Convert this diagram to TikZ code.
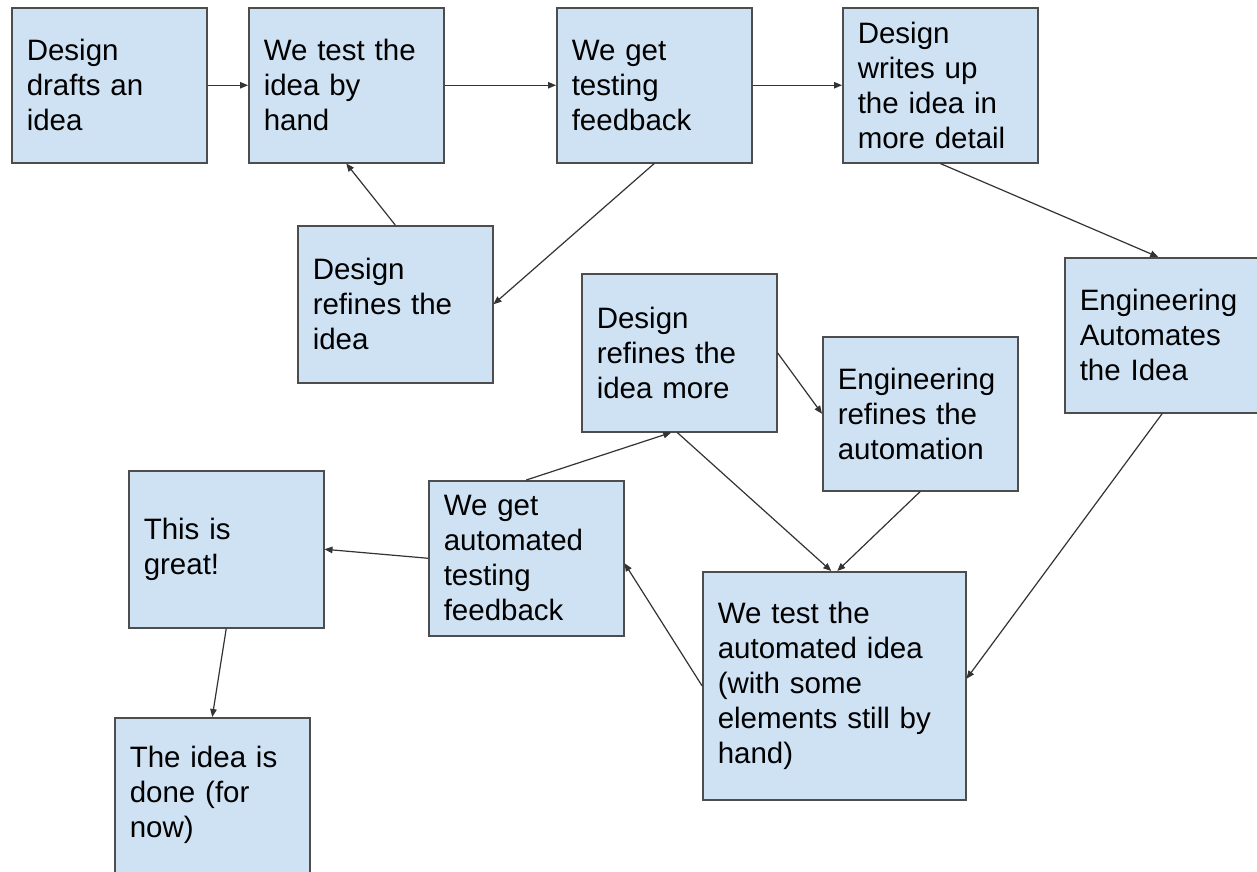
\documentclass[tikz,border=0pt]{standalone}
\usepackage{fontspec}
\setmainfont{Liberation Sans}
\usetikzlibrary{arrows.meta}
\definecolor{boxfill}{HTML}{CFE2F3}
\definecolor{boxline}{HTML}{4D4D4D}
\definecolor{linkline}{HTML}{333333}
\begin{document}
\begin{tikzpicture}[x=1pt,y=-1pt,
  stagebox/.style={draw=boxline, line width=1.5pt, fill=boxfill, rectangle,
    anchor=north west, inner xsep=15pt, inner ysep=4pt, align=left,
    font=\fontsize{29.5}{35}\selectfont,
    minimum width=195pt, text width=165pt, minimum height=155pt},
  widebox/.style={minimum width=263pt, text width=233pt},
  link/.style={draw=linkline, line width=1.2pt, -{Triangle[length=8pt,width=6.5pt]}}]

\clip (0,0) rectangle (1257,871);
\fill[white] (0,0) rectangle (1257,871);

% first row: the hand-tested loop
\node[stagebox] (draft)  at (11,7)   {Design\\drafts an\\idea};
\node[stagebox] (handtest) at (248,7) {We test the\\idea by\\hand};
\node[stagebox] (feedback) at (556,7) {We get\\testing\\feedback};
\node[stagebox] (writeup) at (842,7)  {Design\\writes up\\the idea in\\more detail};
\node[stagebox, minimum height=157pt] (refine) at (297,225) {Design\\refines the\\idea};

% automation stage
\node[stagebox] (automate) at (1064,257) {Engineering\\Automates\\the Idea};
\node[stagebox, minimum height=158pt] (refinemore) at (581,273) {Design\\refines the\\idea more};
\node[stagebox, minimum height=154pt] (engrefine) at (822,336) {Engineering\\refines the\\automation};
\node[stagebox, widebox, minimum height=228pt] (autotest) at (702,571)
  {We test the\\automated idea\\(with some\\elements still by\\hand)};
\node[stagebox] (autofeedback) at (428,480) {We get\\automated\\testing\\feedback};
\node[stagebox, minimum height=157pt] (great) at (128,470) {This is\\great!};
\node[stagebox] (done) at (114,717) {The idea is\\done (for\\now)};

% connectors
\draw[link] (draft.east) -- (handtest.west);
\draw[link] (handtest.east) -- (feedback.west);
\draw[link] (feedback.east) -- (writeup.west);
\draw[link] (feedback.south) -- (refine.east);
\draw[link] (refine.north) -- (handtest.south);
\draw[link] (writeup.south) -- ([xshift=-4pt]automate.north);
\draw[link] (automate.south) -- ([yshift=7pt]autotest.east);
\draw[link] (refinemore.east) -- (engrefine.west);
\draw[link] ([xshift=-2pt]refinemore.south) -- ([xshift=-3pt]autotest.north);
\draw[link] (engrefine.south) -- ([xshift=3pt]autotest.north);
\draw[link] (autofeedback.north) -- ([xshift=-8pt]refinemore.south);
\draw[link] (autotest.west) -- ([yshift=-5pt]autofeedback.east);
\draw[link] (autofeedback.west) -- (great.east);
\draw[link] (great.south) -- (done.north);
\end{tikzpicture}
\end{document}
